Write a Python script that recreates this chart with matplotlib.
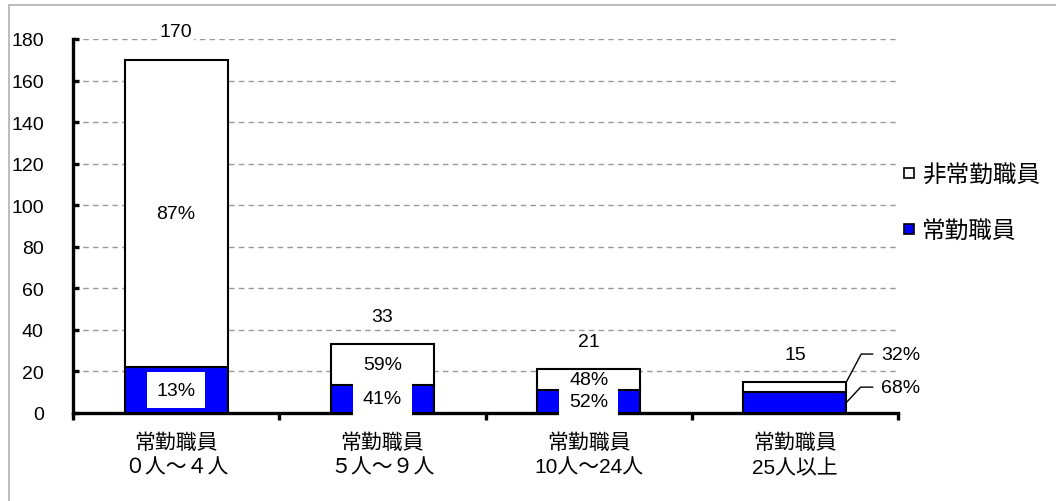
import numpy as np
import matplotlib
matplotlib.use("Agg")
from matplotlib import pyplot as plt
from matplotlib.patches import Rectangle
from matplotlib.lines import Line2D

# 常勤職員数別の職員構成
groups = ["常勤職員\n０人～４人", "常勤職員\n５人～９人", "常勤職員\n10人～24人", "常勤職員\n25人以上"]
totals = [170, 33, 21, 15]
pct_regular = [13, 41, 52, 68]      # 常勤職員
pct_nonregular = [87, 59, 48, 32]   # 非常勤職員

FONT = ["Liberation Sans", "Noto Sans CJK JP", "DejaVu Sans"]
plt.rcParams["font.family"] = FONT
NUM_SIZE = 14

totals = np.array(totals, dtype=float)
regular = totals * np.array(pct_regular) / 100
nonregular = totals * np.array(pct_nonregular) / 100
x = np.arange(len(groups))

fig = plt.figure(figsize=(10.56, 5.02), dpi=100)
ax = fig.add_axes([73 / 1056, 88 / 502, 825 / 1056, 374 / 502])

# 外枠
fig.add_artist(Rectangle((9 / 1056, -0.1), 1.2, 1 - 6 / 502 + 0.1,
                         transform=fig.transFigure, fill=False,
                         edgecolor="#b0b0b0", linewidth=1.2))

w = 0.5
ax.bar(x, regular, w, color="#0000ff", edgecolor="black", linewidth=1.5, zorder=3)
ax.bar(x, nonregular, w, bottom=regular, color="white", edgecolor="black",
       linewidth=1.5, zorder=3)

ax.set_xlim(-0.5, len(groups) - 0.5)
ax.set_ylim(0, 180)
ax.set_yticks(np.arange(0, 181, 20))
ax.yaxis.grid(True, linestyle=(0, (4, 3)), color="#999999", linewidth=1.0)
ax.set_axisbelow(True)

for s in ["top", "right"]:
    ax.spines[s].set_visible(False)
for s in ["left", "bottom"]:
    ax.spines[s].set_linewidth(2.4)
ax.tick_params(axis="y", direction="in", length=4, width=2.4, pad=21,
               labelsize=NUM_SIZE)

ax.set_xticks(x)
ax.set_xticklabels(groups, fontsize=15, linespacing=1.4)
ax.tick_params(axis="x", which="major", length=0, pad=14)
ax.set_xticks(np.arange(-0.5, len(groups), 1), minor=True)
ax.tick_params(axis="x", which="minor", direction="out", length=5, width=2.4)

# 合計値
for xi, t in zip(x, totals):
    ax.annotate(f"{t:.0f}", (xi, t), xytext=(0, 20), textcoords="offset points",
                ha="center", va="center", fontsize=NUM_SIZE, zorder=5,
                bbox=dict(facecolor="white", edgecolor="none", pad=1))

# 構成比
for i in range(3):
    ax.text(x[i], regular[i] / 2, f"{pct_regular[i]}%", ha="center", va="center",
            fontsize=NUM_SIZE, zorder=5,
            bbox=dict(facecolor="white", edgecolor="none", pad=7))
    ax.text(x[i], regular[i] + nonregular[i] / 2, f"{pct_nonregular[i]}%",
            ha="center", va="center", fontsize=NUM_SIZE, zorder=6)

# 最後の棒は引出線付き
i = 3
xr = x[i] + w / 2
ax.annotate(f"{pct_nonregular[i]}%", (xr, totals[i]), xytext=(25, 20),
            textcoords="offset points", ha="left", va="center", fontsize=NUM_SIZE,
            arrowprops=dict(arrowstyle="-", color="black", lw=1.0,
                            shrinkA=4, shrinkB=0, relpos=(0, 0.5),
                            connectionstyle="angle,angleA=0,angleB=62"))
ax.annotate(f"{pct_regular[i]}%", (xr, regular[i] / 2), xytext=(25, 11),
            textcoords="offset points", ha="left", va="center", fontsize=NUM_SIZE,
            arrowprops=dict(arrowstyle="-", color="black", lw=1.0,
                            shrinkA=4, shrinkB=0, relpos=(0, 0.5),
                            connectionstyle="angle,angleA=0,angleB=47"))

handles = [
    Line2D([], [], marker="s", linestyle="none", markersize=7,
           markerfacecolor="white", markeredgecolor="black", markeredgewidth=1.2),
    Line2D([], [], marker="s", linestyle="none", markersize=7,
           markerfacecolor="#0000ff", markeredgecolor="black", markeredgewidth=1.2),
]
fig.legend(handles, ["非常勤職員", "常勤職員"], loc="upper left",
           bbox_to_anchor=(902 / 1056, 1 - 165 / 502), frameon=False,
           fontsize=17, handlelength=0.6, handletextpad=0.25,
           labelspacing=1.45, borderpad=0, borderaxespad=0)

fig.savefig("out.png", dpi=100)
